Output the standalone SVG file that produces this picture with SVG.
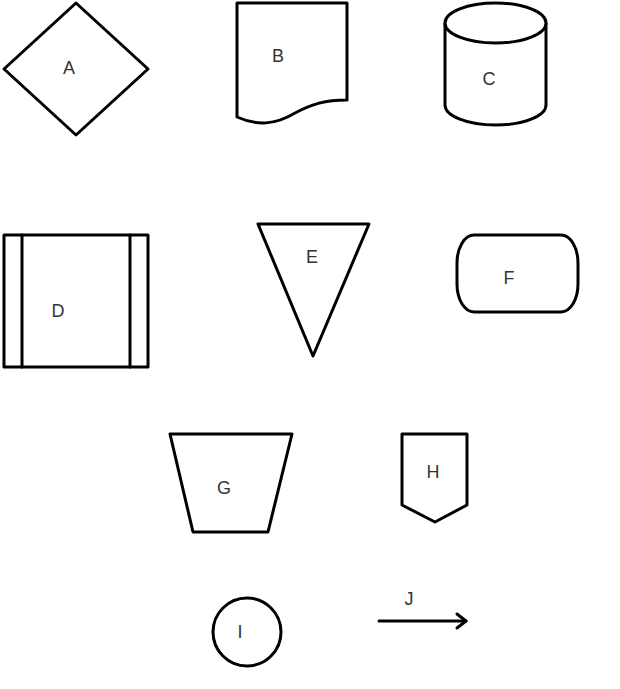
<svg xmlns="http://www.w3.org/2000/svg" width="620" height="689" viewBox="0 0 620 689">
<style>
.s{fill:#fff;stroke:#000;stroke-width:3;stroke-linejoin:round}
.l{fill:none;stroke:#000;stroke-width:3;stroke-linecap:round;stroke-linejoin:round}
.t{font-family:"Liberation Sans",Arial,sans-serif;font-size:18px;fill:#333;text-anchor:middle}
</style>
<rect width="620" height="689" fill="#fff"/>
<g id="A"><polygon class="s" points="76,3 148,69 76,135 4,69"/><text class="t" x="69" y="74">A</text></g>
<g id="B"><path class="s" d="M237,3 H347 V100 C325,100 312,104 295,113 C275,125 257,126 237,117 Z"/><text class="t" x="278" y="62">B</text></g>
<g id="C"><path class="s" d="M445,23 V105 A50.5,20 0 0 0 546,105 V23"/><ellipse class="s" cx="495.5" cy="23" rx="50.5" ry="20"/><text class="t" x="489" y="85">C</text></g>
<g id="D"><rect class="s" x="4" y="235" width="144" height="132"/><line class="l" x1="22" y1="235" x2="22" y2="367"/><line class="l" x1="130" y1="235" x2="130" y2="367"/><text class="t" x="58" y="317">D</text></g>
<g id="E"><polygon class="s" points="258,224 369,224 313,356"/><text class="t" x="312" y="263">E</text></g>
<g id="F"><rect class="s" x="457" y="235" width="121" height="77" rx="17" ry="28"/><text class="t" x="509" y="284">F</text></g>
<g id="G"><polygon class="s" points="170,434 292,434 268,532 193,532"/><text class="t" x="224" y="494">G</text></g>
<g id="H"><polygon class="s" points="402,434 467,434 467,505 435,522 402,505"/><text class="t" x="433" y="478">H</text></g>
<g id="I"><circle class="s" cx="247" cy="632" r="34"/><text class="t" x="240" y="638">I</text></g>
<g id="connectors"><line class="l" x1="379" y1="621" x2="466" y2="621"/><polyline class="l" points="457,614 466,621 457,628"/><text class="t" x="409" y="605">J</text></g>
</svg>
